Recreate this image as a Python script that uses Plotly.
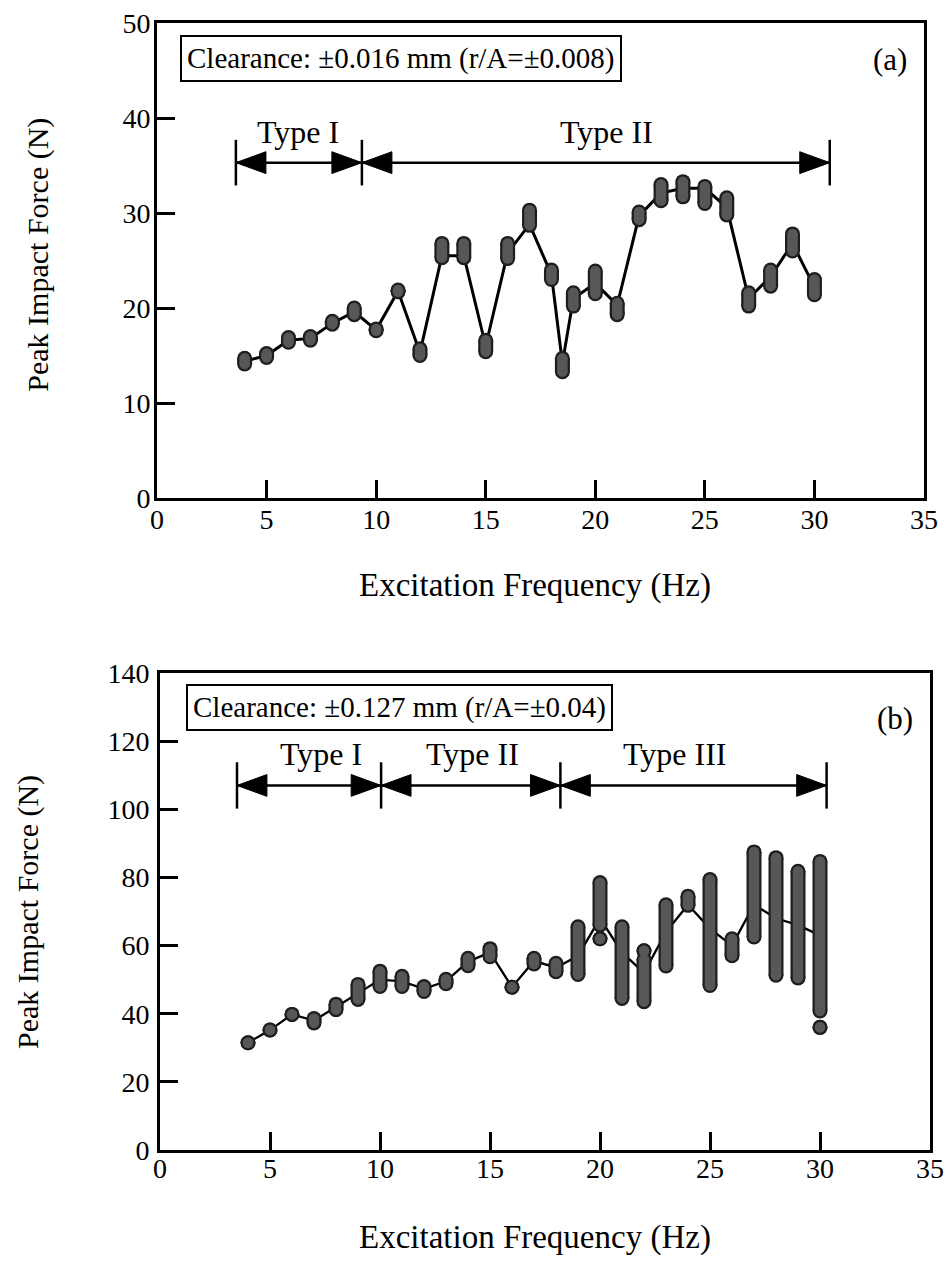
import plotly.graph_objects as go

# ---------------- data: panel (a), clearance ±0.016 mm ----------------
freq_a = [4, 5, 6, 7, 8, 9, 10, 11, 12, 13, 14, 15, 16, 17, 18, 18.5,
          19, 20, 21, 22, 23, 24, 25, 26, 27, 28, 29, 30]
low_a = [14.1, 14.8, 16.4, 16.6, 18.3, 19.3, 17.6, 21.7, 15.0, 25.3, 25.3, 15.4, 25.2, 28.7,
         23.0, 13.3, 20.2, 21.5, 19.3, 29.3, 31.3, 31.7, 31.0, 29.8, 20.2, 22.3, 26.0, 21.4]
high_a = [14.7, 15.2, 16.9, 17.0, 18.6, 20.0, 17.8, 21.9, 15.7, 26.8, 26.8, 16.6, 26.8, 30.3,
          24.0, 14.7, 21.6, 23.9, 20.5, 30.1, 33.0, 33.3, 32.8, 31.6, 21.6, 24.0, 27.8, 23.0]
mean_a = [14.4, 15.0, 16.6, 16.8, 18.4, 19.6, 17.7, 21.8, 15.3, 25.5, 25.5, 16.0, 25.8, 28.8,
          23.5, 14.2, 21.0, 22.6, 20.3, 29.7, 32.1, 32.6, 32.6, 30.6, 21.0, 23.3, 26.8, 22.2]

# ---------------- data: panel (b), clearance ±0.127 mm ----------------
freq_b = [4, 5, 6, 7, 8, 9, 10, 11, 12, 13, 14, 15, 16, 17, 18,
          19, 20, 21, 22, 23, 24, 25, 26, 27, 28, 29, 30]
low_b = [31.5, 35.2, 39.8, 37.3, 41.2, 44.2, 48.0, 48.0, 46.5, 48.8, 54.1, 56.7, 47.8, 54.6, 52.3,
         51.5, 66.0, 44.5, 43.5, 54.0, 71.8, 48.3, 57.0, 62.5, 51.3, 50.5, 40.8]
high_b = [31.5, 35.2, 39.8, 38.6, 42.8, 48.6, 52.5, 51.0, 48.0, 50.1, 56.3, 59.1, 47.8, 56.3, 54.8,
          65.5, 78.5, 65.5, 56.0, 72.0, 74.5, 79.4, 62.0, 87.5, 85.8, 81.8, 84.7]
mean_b = [31.5, 35.2, 39.8, 38.0, 42.0, 46.0, 50.0, 49.5, 47.3, 49.5, 55.3, 58.0, 47.8, 55.5, 53.5,
          57.0, 68.0, 58.0, 52.0, 64.0, 72.0, 65.0, 60.0, 72.0, 68.0, 66.0, 63.0]
extra_freq_b = [20, 22, 30]
extra_val_b = [62.0, 58.5, 36.0]

# ---------------- response-type regions ----------------
bounds_a = [3.6, 9.35, 30.7]
types_a = ["Type I", "Type II"]
type_label_x_a = [6.45, 20.5]
arrow_level_a = 35.3

bounds_b = [3.5, 10.05, 18.2, 30.3]
types_b = ["Type I", "Type II", "Type III"]
type_label_x_b = [7.3, 14.2, 23.4]
arrow_level_b = 107.0

x_ticks = [0, 5, 10, 15, 20, 25, 30, 35]
y_ticks_a = [0, 10, 20, 30, 40, 50]
y_ticks_b = [0, 20, 40, 60, 80, 100, 120, 140]

FONT = "Liberation Serif"
EDGE = "#1e1e1e"
FILL = "#575757"

fig = go.Figure()


def column_xy(freqs, lo, hi):
    xs, ys = [], []
    for f, a, b in zip(freqs, lo, hi):
        xs += [f, f, None]
        ys += [a, b, None]
    return xs, ys


def add_panel(freqs, lo, hi, mean, xa, ya, line_w, ex_f=None, ex_v=None):
    # connecting line through the average peak force
    fig.add_trace(go.Scatter(x=freqs, y=mean, mode="lines", xaxis=xa, yaxis=ya,
                             line=dict(color="black", width=line_w),
                             hoverinfo="skip", showlegend=False))
    cx, cy = column_xy(freqs, lo, hi)
    if ex_f:
        for f, v in zip(ex_f, ex_v):
            cx += [f, f, None]
            cy += [v, v, None]
    # scatter of measured peaks: dark rim then grey body
    fig.add_trace(go.Scatter(x=cx, y=cy, mode="lines+markers", xaxis=xa, yaxis=ya,
                             line=dict(color=EDGE, width=15),
                             marker=dict(color=EDGE, size=15),
                             hoverinfo="skip", showlegend=False))
    fig.add_trace(go.Scatter(x=cx, y=cy, mode="lines+markers", xaxis=xa, yaxis=ya,
                             line=dict(color=FILL, width=10.5),
                             marker=dict(color=FILL, size=10.5),
                             hoverinfo="skip", showlegend=False))


add_panel(freq_a, low_a, high_a, mean_a, "x", "y", 3)
add_panel(freq_b, low_b, high_b, mean_b, "x2", "y2", 2.3, extra_freq_b, extra_val_b)

shapes = []
annotations = []


def type_regions(bounds, names, label_x, level, xr, yr, bar_half, head_dx, head_dy):
    shapes.append(dict(type="line", xref=xr, yref=yr, x0=bounds[0], x1=bounds[-1],
                       y0=level, y1=level, line=dict(color="black", width=2.5)))
    for b in bounds:
        shapes.append(dict(type="line", xref=xr, yref=yr, x0=b, x1=b,
                           y0=level - bar_half, y1=level + bar_half,
                           line=dict(color="black", width=2.5)))
    for i, name in enumerate(names):
        left, right = bounds[i], bounds[i + 1]
        for tip, d in ((left, head_dx), (right, -head_dx)):
            path = (f"M {tip},{level} L {tip + d},{level + head_dy} "
                    f"L {tip + d},{level - head_dy} Z")
            shapes.append(dict(type="path", xref=xr, yref=yr, path=path,
                               fillcolor="black", line=dict(color="black", width=1)))
        annotations.append(dict(x=label_x[i], y=level, xref=xr, yref=yr, text=name,
                                showarrow=False, yanchor="middle", yshift=31,
                                font=dict(family=FONT, size=32, color="black")))


type_regions(bounds_a, types_a, type_label_x_a, arrow_level_a, "x", "y", 2.4, 1.37, 1.15)
type_regions(bounds_b, types_b, type_label_x_b, arrow_level_b, "x2", "y2", 6.8, 1.36, 3.2)

# clearance boxes and panel labels
annotations += [
    dict(x=1.05, y=46.3, xref="x", yref="y", xanchor="left", yanchor="middle",
         text="Clearance: ±0.016 mm (r/A=±0.008)", showarrow=False,
         bordercolor="black", borderwidth=2, borderpad=5, bgcolor="white",
         font=dict(family=FONT, size=29, color="black")),
    dict(x=1.18, y=129.8, xref="x2", yref="y2", xanchor="left", yanchor="middle",
         text="Clearance: ±0.127 mm (r/A=±0.04)", showarrow=False,
         bordercolor="black", borderwidth=2, borderpad=5, bgcolor="white",
         font=dict(family=FONT, size=29, color="black")),
    dict(x=33.45, y=46.2, xref="x", yref="y", text="(a)", showarrow=False,
         font=dict(family=FONT, size=31, color="black")),
    dict(x=33.4, y=126.7, xref="x2", yref="y2", text="(b)", showarrow=False,
         font=dict(family=FONT, size=31, color="black")),
]

# axis titles
for yc in (0.5386, 0.0237):
    annotations.append(dict(x=0.5660, y=yc, xref="paper", yref="paper",
                            xanchor="center", yanchor="middle",
                            text="Excitation Frequency (Hz)", showarrow=False,
                            font=dict(family=FONT, size=33, color="black")))
for xc, yc in ((0.040, 0.799), (0.0296, 0.2808)):
    annotations.append(dict(x=xc, y=yc, xref="paper", yref="paper", textangle=-90,
                            xanchor="center", yanchor="middle",
                            text="Peak Impact Force (N)", showarrow=False,
                            font=dict(family=FONT, size=30, color="black")))

axis_common = dict(showline=True, linecolor="black", linewidth=3, mirror=True,
                   ticks="inside", ticklen=18, tickwidth=2.5, tickcolor="black",
                   showgrid=False, zeroline=False, automargin=False,
                   tickfont=dict(family=FONT, size=28, color="black"))

W, H = 946, 1268
fig.update_layout(
    width=W, height=H,
    margin=dict(l=0, r=0, t=0, b=0, pad=0, autoexpand=False),
    font=dict(family=FONT, size=28, color="black"),
    paper_bgcolor="white", plot_bgcolor="white",
    showlegend=False,
    xaxis=dict(domain=[157 / W, 924 / W], range=[0, 35], tickvals=x_ticks,
               anchor="y", ticklabelstandoff=-6, **axis_common),
    yaxis=dict(domain=[1 - 498 / H, 1 - 23 / H], range=[0, 50], tickvals=y_ticks_a,
               anchor="x", ticklabelstandoff=-2, **axis_common),
    xaxis2=dict(domain=[160 / W, 930 / W], range=[0, 35], tickvals=x_ticks,
                anchor="y2", ticklabelstandoff=-9, **axis_common),
    yaxis2=dict(domain=[1 - 1150 / H, 1 - 673 / H], range=[0, 140], tickvals=y_ticks_b,
                anchor="x2", ticklabelstandoff=2, **axis_common),
    shapes=shapes,
    annotations=annotations,
)

fig.write_html("out.html")
